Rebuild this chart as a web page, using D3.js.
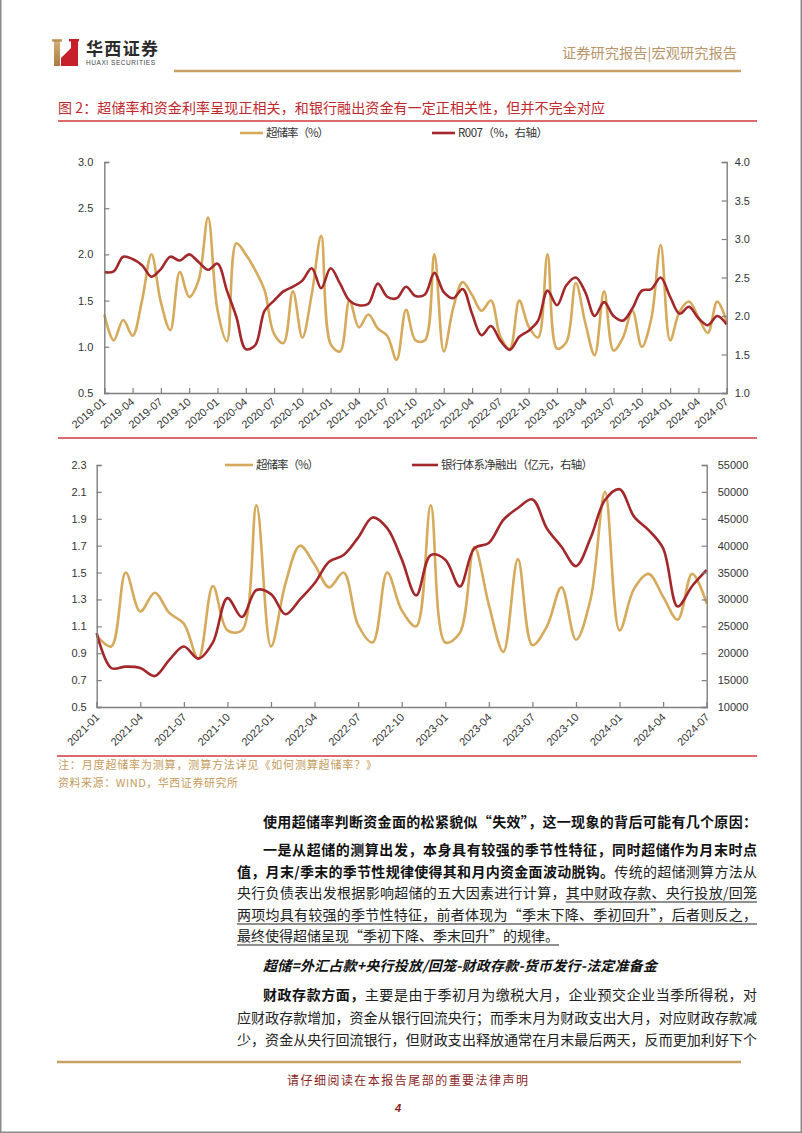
<!DOCTYPE html>
<html><head><meta charset="utf-8">
<script src="https://cdn.jsdelivr.net/npm/d3@7"></script>
<style>body{margin:0;background:#fff}svg{display:block}</style>
</head><body>
<svg id="c" width="802" height="1133"></svg>
<script>
// ---------- DATA ----------
const months1 = ["2019-01","2019-02","2019-03","2019-04","2019-05","2019-06","2019-07","2019-08","2019-09","2019-10","2019-11","2019-12",
"2020-01","2020-02","2020-03","2020-04","2020-05","2020-06","2020-07","2020-08","2020-09","2020-10","2020-11","2020-12",
"2021-01","2021-02","2021-03","2021-04","2021-05","2021-06","2021-07","2021-08","2021-09","2021-10","2021-11","2021-12",
"2022-01","2022-02","2022-03","2022-04","2022-05","2022-06","2022-07","2022-08","2022-09","2022-10","2022-11","2022-12",
"2023-01","2023-02","2023-03","2023-04","2023-05","2023-06","2023-07","2023-08","2023-09","2023-10","2023-11","2023-12",
"2024-01","2024-02","2024-03","2024-04","2024-05","2024-06","2024-07"];
// 超储率 (%)
const excessReserve = [1.35,1.07,1.29,1.12,1.5,2.0,1.48,1.18,1.81,1.54,1.72,2.4,
1.4,1.06,2.12,2.0,1.83,1.61,1.14,1.04,1.6,1.1,1.57,2.2,
1.03,0.95,1.5,1.21,1.35,1.2,1.12,0.86,1.4,1.07,1.07,2.0,
0.95,1.42,1.7,1.56,1.39,1.5,1.11,0.98,1.5,1.22,1.1,2.0,
0.98,1.05,1.69,1.26,0.91,1.6,0.96,1.1,1.39,1.0,1.3,2.1,
1.07,1.38,1.49,1.32,1.15,1.49,1.27];
// R007 (%, right axis)
const r007 = [2.57,2.58,2.77,2.74,2.66,2.51,2.61,2.77,2.72,2.8,2.7,2.6,
2.68,2.33,1.99,1.57,1.62,2.07,2.2,2.32,2.38,2.46,2.62,2.36,
2.62,2.42,2.2,2.14,2.16,2.42,2.25,2.23,2.38,2.26,2.28,2.56,
2.31,2.23,2.35,2.03,1.75,1.87,1.68,1.56,1.73,1.81,1.94,2.33,
2.14,2.4,2.5,2.31,2.0,2.18,2.0,1.94,2.1,2.33,2.35,2.5,
2.25,2.03,2.12,1.97,1.88,2.0,1.89];
// 银行体系净融出 (亿元, right axis) 2021-01 .. 2024-07
const netLending = [23750,17250,17500,17250,15750,18750,21250,19000,22000,30250,26750,31750,
31000,27250,30000,33000,37000,38250,41500,45250,43250,37500,30750,38250,
37400,32400,39500,40500,44800,47000,48600,43200,39800,36200,41400,48500,
50500,45400,42900,39500,28700,32500,35500];
const chart2Start = 24; // index of 2021-01 in months1
const xTicks1 = ["2019-01","2019-04","2019-07","2019-10","2020-01","2020-04","2020-07","2020-10","2021-01","2021-04","2021-07","2021-10","2022-01","2022-04","2022-07","2022-10","2023-01","2023-04","2023-07","2023-10","2024-01","2024-04","2024-07"];
const xTicks2 = ["2021-01","2021-04","2021-07","2021-10","2022-01","2022-04","2022-07","2022-10","2023-01","2023-04","2023-07","2023-10","2024-01","2024-04","2024-07"];
const yTicksL1 = [0.5,1.0,1.5,2.0,2.5,3.0];
const yTicksR1 = [1.0,1.5,2.0,2.5,3.0,3.5,4.0];
const yTicksL2 = [0.5,0.7,0.9,1.1,1.3,1.5,1.7,1.9,2.1,2.3];
const yTicksR2 = [10000,15000,20000,25000,30000,35000,40000,45000,50000,55000];
const legend1 = ["超储率（%）","R007（%，右轴）"];
const legend2 = ["超储率（%）","银行体系净融出（亿元，右轴）"];

// ---------- STYLE ----------
const C = {orange:"#d6aa5c", red:"#a3282b", axis:"#7f7f7f", tick:"#333",
  gold:"#c8a063", goldText:"#b8956a", title:"#c0282d", rule:"#d23a3c", note:"#c49b5e", foot:"#8b1f1f"};
const CJK = "'Noto Sans CJK SC','Liberation Sans',sans-serif";
const ARIAL = "'Liberation Sans',Arial,sans-serif";
const svg = d3.select("#c");

// page border
svg.append("path").attr("d","M0.75,0 V1132.25 H801.25 V0").attr("fill","none").attr("stroke","#8a8a8a").attr("stroke-width",1.5);

// ---------- HEADER ----------
const defs = svg.append("defs");
const gr = defs.append("linearGradient").attr("id","gld").attr("x1",0).attr("x2",0).attr("y1",0).attr("y2",1);
gr.append("stop").attr("offset","0").attr("stop-color","#d9b47c");
gr.append("stop").attr("offset","1").attr("stop-color","#a97a3e");
const logo = svg.append("g");
logo.append("rect").attr("x",54).attr("y",39).attr("width",6).attr("height",27).attr("fill","url(#gld)");
logo.append("rect").attr("x",52).attr("y",39).attr("width",10).attr("height",2.5).attr("fill","url(#gld)");
logo.append("path").attr("d","M61,66 L61,58 L71,48 L71,39 L78,39 L78,66 Z").attr("fill","#c8202a");
logo.append("rect").attr("x",69).attr("y",39).attr("width",10).attr("height",2.5).attr("fill","#c8202a");
svg.append("text").attr("x",86).attr("y",55).attr("font-family","'Noto Sans CJK SC'").attr("font-weight","bold")
  .attr("font-size",17).attr("fill","#2a2a2a").attr("textLength",72).text("华西证券");
svg.append("text").attr("x",86).attr("y",65).attr("font-family",ARIAL).attr("font-size",6.5).attr("fill","#444")
  .attr("textLength",69).text("HUAXI SECURITIES");
svg.append("text").attr("x",562).attr("y",58).attr("font-family",CJK).attr("font-size",13.5).attr("fill",C.goldText)
  .attr("textLength",175).attr("lengthAdjust","spacingAndGlyphs").text("证券研究报告|宏观研究报告");
svg.append("line").attr("x1",174).attr("x2",741).attr("y1",71).attr("y2",71).attr("stroke",C.gold).attr("stroke-width",2.5);

// title
svg.append("text").attr("x",58).attr("y",113).attr("font-family",CJK).attr("font-size",14).attr("fill",C.title)
  .attr("textLength",547).text("图 2：超储率和资金利率呈现正相关，和银行融出资金有一定正相关性，但并不完全对应");
svg.append("line").attr("x1",58).attr("x2",757).attr("y1",121).attr("y2",121).attr("stroke",C.rule).attr("stroke-width",1.5);

// ---------- CHART helper ----------
function drawChart(o){
  const g = svg.append("g");
  const x = d3.scaleLinear().domain([0,o.n-1]).range([o.x0,o.x1]);
  const yL = d3.scaleLinear().domain(o.yLdom).range([o.yb,o.yt]);
  const yR = d3.scaleLinear().domain(o.yRdom).range([o.yb,o.yt]);
  const curve = d3.curveCatmullRom.alpha(0.5);
  g.append("path").datum(o.left).attr("fill","none").attr("stroke",C.orange).attr("stroke-width",2.6)
    .attr("d",d3.line().x((d,i)=>x(i)).y(d=>yL(d)).curve(curve));
  g.append("path").datum(o.right).attr("fill","none").attr("stroke",C.red).attr("stroke-width",2.6)
    .attr("d",d3.line().x((d,i)=>x(i)).y(d=>yR(d)).curve(curve));
  const aL = g.append("g").attr("transform",`translate(${o.x0},0)`)
    .call(d3.axisLeft(yL).tickValues(o.yLticks).tickFormat(o.fmtL).tickSize(-5).tickPadding(o.padL));
  const aR = g.append("g").attr("transform",`translate(${o.x1},0)`)
    .call(d3.axisRight(yR).tickValues(o.yRticks).tickFormat(o.fmtR).tickSize(-5).tickPadding(o.padR));
  const tickIdx = o.xTicks.map(t=>o.labels.indexOf(t));
  const aB = g.append("g").attr("transform",`translate(0,${o.yb})`)
    .call(d3.axisBottom(x).tickValues(tickIdx).tickFormat(i=>o.labels[i]).tickSize(-5).tickPadding(4));
  aB.selectAll("text").attr("text-anchor","end").attr("dy",0).attr("y",0)
    .attr("transform",`translate(${o.lx},${o.ly}) rotate(${o.rot})`);
  [aL,aR,aB].forEach(a=>{
    a.select(".domain").attr("stroke",C.axis).attr("stroke-width",1.4);
    a.selectAll(".tick line").attr("stroke",C.axis).attr("stroke-width",1.2);
    a.selectAll("text").attr("fill",C.tick).attr("font-family",ARIAL).attr("font-size",11);
  });
  o.legend.forEach((lg,k)=>{
    g.append("line").attr("x1",lg.x).attr("x2",lg.x+lg.w).attr("y1",o.legY).attr("y2",o.legY)
      .attr("stroke",k===0?C.orange:C.red).attr("stroke-width",2.6);
    g.append("text").attr("x",lg.x+lg.w+3).attr("y",o.legY+4).attr("font-family",CJK).attr("font-size",11.5)
      .attr("fill","#333").attr("textLength",lg.tw).text(lg.t);
  });
}

drawChart({n:months1.length, x0:104.3, x1:726.7, yt:162, yb:393,
  yLdom:[0.5,3.0], yRdom:[1.0,4.0], left:excessReserve, right:r007,
  yLticks:yTicksL1, yRticks:yTicksR1, fmtL:d3.format(".1f"), fmtR:d3.format(".1f"), padL:11, padR:8,
  xTicks:xTicks1, labels:months1, rot:-40, lx:2, ly:10,
  legY:133, legend:[{x:240,w:23,t:legend1[0],tw:63},{x:432,w:23,t:legend1[1],tw:90}]});

svg.append("line").attr("x1",58).attr("x2",757).attr("y1",438).attr("y2",438).attr("stroke",C.rule).attr("stroke-width",1.5);

drawChart({n:netLending.length, x0:96.7, x1:706.7, yt:465, yb:707,
  yLdom:[0.5,2.3], yRdom:[10000,55000], left:excessReserve.slice(chart2Start), right:netLending,
  yLticks:yTicksL2, yRticks:yTicksR2, fmtL:d3.format(".1f"), fmtR:d3.format("d"), padL:10, padR:11,
  xTicks:xTicks2, labels:months1.slice(chart2Start), rot:-45, lx:3, ly:11,
  legY:465, legend:[{x:225,w:28,t:legend2[0],tw:63},{x:412,w:26,t:legend2[1],tw:152}]});

svg.append("line").attr("x1",57).attr("x2",757).attr("y1",756).attr("y2",756).attr("stroke",C.rule).attr("stroke-width",1.5);

// notes
svg.append("text").attr("x",58).attr("y",769).attr("font-family",CJK).attr("font-size",11).attr("fill",C.note)
  .attr("textLength",319).text("注：月度超储率为测算，测算方法详见《如何测算超储率？》");
svg.append("text").attr("x",58).attr("y",787).attr("font-family",CJK).attr("font-size",11).attr("fill",C.note)
  .attr("textLength",180).text("资料来源：WIND，华西证券研究所");

// ---------- BODY TEXT ----------
const lines = [
  {x:263,x2:757,y:822,parts:[["b","使用超储率判断资金面的松紧貌似“失效”，这一现象的背后可能有几个原因："]]},
  {x:263,x2:757,y:850,parts:[["b","一是从超储的测算出发，本身具有较强的季节性特征，同时超储作为月末时点"]]},
  {x:237,x2:757,y:872,parts:[["b","值，月末/季末的季节性规律使得其和月内资金面波动脱钩。"],["n","传统的超储测算方法从"]]},
  {x:237,x2:757,y:893,parts:[["n","央行负债表出发根据影响超储的五大因素进行计算，"],["u","其中财政存款、央行投放/回笼"]]},
  {x:237,x2:757,y:915,parts:[["u","两项均具有较强的季节性特征，前者体现为“季末下降、季初回升”，后者则反之，"]]},
  {x:237,x2:null,y:936,parts:[["u","最终使得超储呈现“季初下降、季末回升”的规律。"]]},
  {x:263,x2:657,y:966,parts:[["bi","超储=外汇占款+央行投放/回笼-财政存款-货币发行-法定准备金"]]},
  {x:263,x2:757,y:995,parts:[["b","财政存款方面，"],["n","主要是由于季初月为缴税大月，企业预交企业当季所得税，对"]]},
  {x:237,x2:757,y:1018,parts:[["n","应财政存款增加，资金从银行回流央行；而季末月为财政支出大月，对应财政存款减"]]},
  {x:237,x2:757,y:1040,parts:[["n","少，资金从央行回流银行，但财政支出释放通常在月末最后两天，反而更加利好下个"]]}
];
lines.forEach(L=>{
  const t = svg.append("text").attr("x",L.x).attr("y",L.y+5).attr("font-family",CJK).attr("font-size",14).attr("fill","#222");
  if(L.x2) t.attr("textLength",L.x2-L.x).attr("lengthAdjust","spacing");
  let idx=0; const ul=[];
  L.parts.forEach(([s,str])=>{
    const ts=t.append("tspan").text(str);
    if(s==="b"||s==="bi") ts.attr("font-weight","bold").attr("fill","#111");
    if(s==="bi") ts.attr("font-style","italic");
    if(s==="u") ul.push([idx, idx+str.length-1]);
    idx+=str.length;
  });
  const node=t.node();
  ul.forEach(([a,b])=>{
    let xa, xb;
    try{ xa=node.getStartPositionOfChar(a).x; xb=node.getEndPositionOfChar(b).x; }catch(e){ xa=L.x; xb=L.x2||L.x; }
    svg.append("line").attr("x1",xa).attr("x2",xb).attr("y1",L.y+9).attr("y2",L.y+9).attr("stroke","#222").attr("stroke-width",1);
  });
});

// ---------- FOOTER ----------
svg.append("line").attr("x1",57).attr("x2",741).attr("y1",1062).attr("y2",1062).attr("stroke",C.gold).attr("stroke-width",2.5);
svg.append("text").attr("x",287).attr("y",1085).attr("font-family",CJK).attr("font-size",12).attr("fill",C.foot)
  .attr("textLength",241).text("请仔细阅读在本报告尾部的重要法律声明");
svg.append("text").attr("x",398).attr("y",1112).attr("text-anchor","middle").attr("font-family",ARIAL).attr("font-weight","bold")
  .attr("font-style","italic").attr("font-size",11).attr("fill",C.foot).text("4");
</script>
</body></html>
